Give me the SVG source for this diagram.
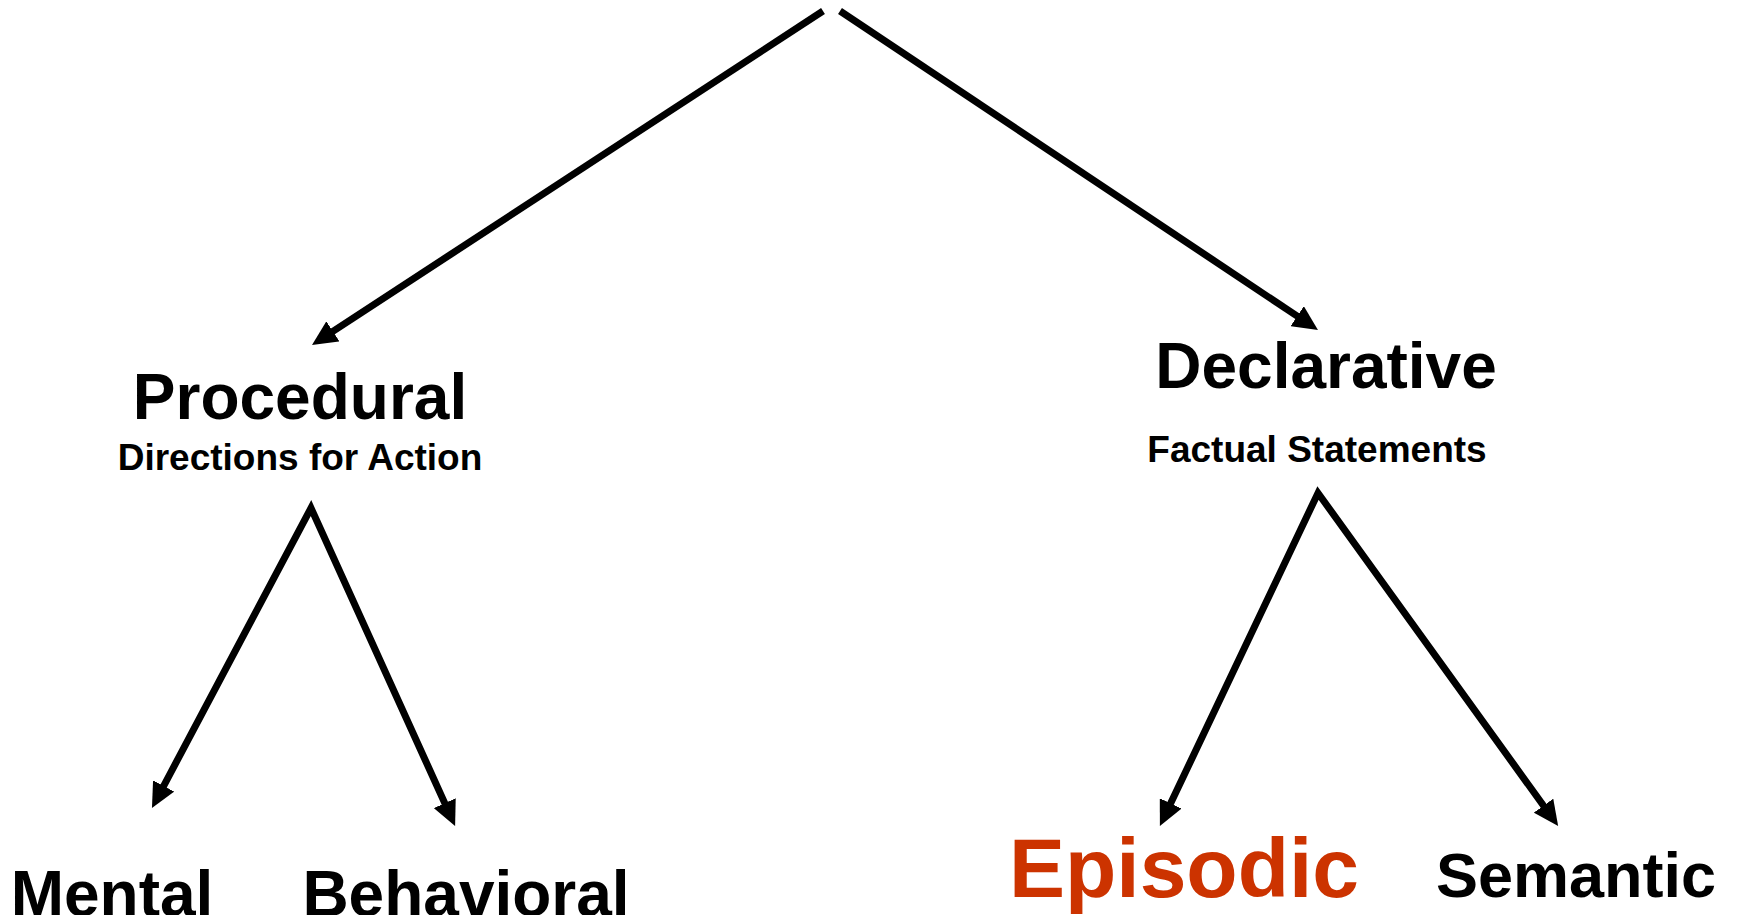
<svg xmlns="http://www.w3.org/2000/svg" width="1737" height="915" viewBox="0 0 1737 915">
<style>
.t{font-family:"Liberation Sans",Arial,sans-serif;font-weight:bold;fill:#000;text-anchor:middle}
.c{fill:none;stroke:#000;stroke-width:7;stroke-linejoin:miter;stroke-miterlimit:10}
</style>
<defs>
<marker id="ah" viewBox="0 0 25 24" markerWidth="25" markerHeight="24" markerUnits="userSpaceOnUse" refX="1" refY="12" orient="auto-start-reverse">
<path d="M0,0 L25,12 L0,24 z" fill="#000"/>
</marker>
</defs>
<rect width="1737" height="915" fill="#fff"/>
<g id="connectors">
<line class="c" x1="823" y1="11" x2="332.1" y2="331.9" marker-end="url(#ah)"/>
<line class="c" x1="840" y1="11" x2="1298" y2="316.7" marker-end="url(#ah)"/>
<path class="c" d="M163.2,786.8 L311,508 L445.2,804.1" marker-start="url(#ah)" marker-end="url(#ah)"/>
<path class="c" d="M1170.2,804.3 L1318,493 L1544.1,806.5" marker-start="url(#ah)" marker-end="url(#ah)"/>
</g>
<g id="procedural">
<text class="t" x="300" y="419" font-size="64">Procedural</text>
<text class="t" x="300" y="470" font-size="37">Directions for Action</text>
</g>
<g id="declarative">
<text class="t" x="1326" y="388" font-size="64">Declarative</text>
<text class="t" x="1317" y="462" font-size="37">Factual Statements</text>
</g>
<g id="mental">
<text class="t" x="112" y="916" font-size="64">Mental</text>
</g>
<g id="behavioral">
<text class="t" x="466" y="916" font-size="64">Behavioral</text>
</g>
<g id="episodic">
<text class="t" x="1184" y="897" font-size="84" style="fill:#CC3300">Episodic</text>
</g>
<g id="semantic">
<text class="t" x="1576" y="897" font-size="63">Semantic</text>
</g>
</svg>
